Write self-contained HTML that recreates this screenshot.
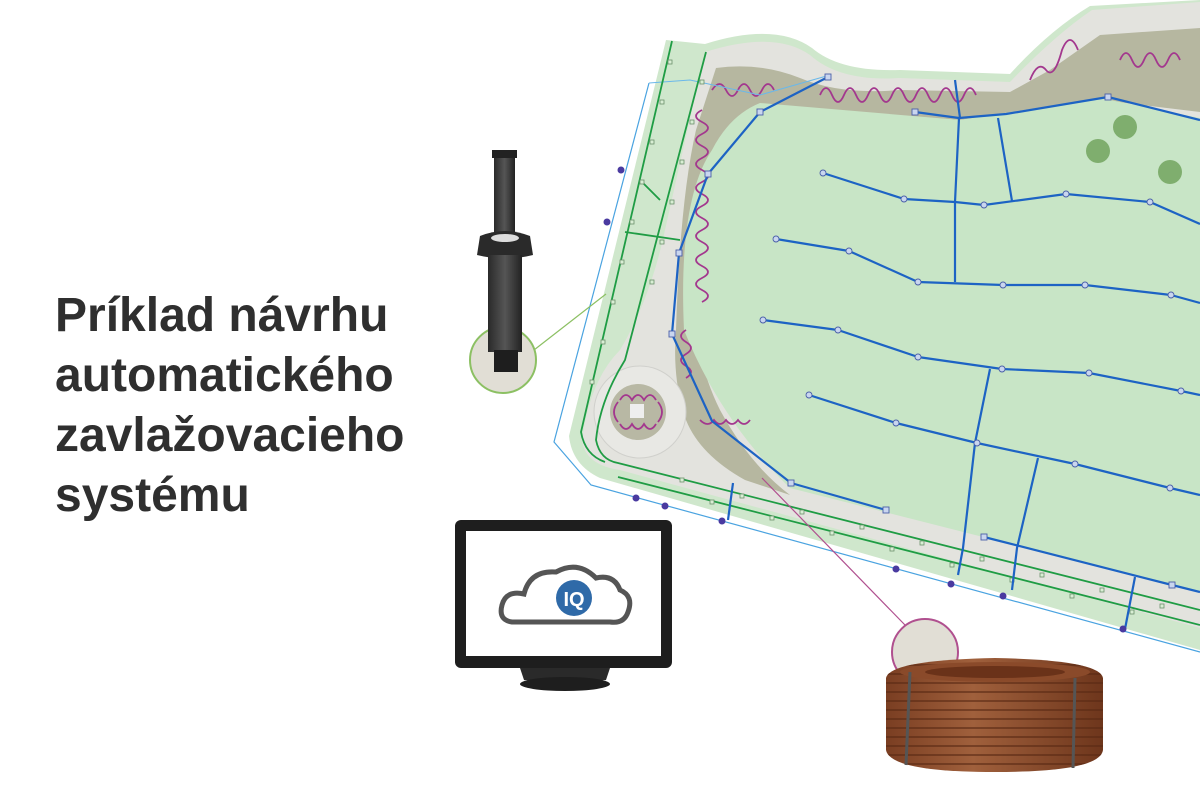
<!DOCTYPE html>
<html><head><meta charset="utf-8"><style>
html,body{margin:0;padding:0;background:#fff;}
body{width:1200px;height:788px;overflow:hidden;position:relative;font-family:"Liberation Sans",sans-serif;}
.t{position:absolute;left:55px;top:286px;font-size:48px;font-weight:bold;color:#2f2f2f;line-height:60px;}
svg{position:absolute;left:0;top:0;}
</style></head><body>
<svg width="1200" height="788" viewBox="0 0 1200 788">
<defs>
<linearGradient id="body" x1="0" x2="1"><stop offset="0" stop-color="#2a2a2a"/><stop offset=".5" stop-color="#555"/><stop offset="1" stop-color="#222"/></linearGradient>
<linearGradient id="coil" x1="0" x2="1"><stop offset="0" stop-color="#7a3e22"/><stop offset=".4" stop-color="#a0603c"/><stop offset="1" stop-color="#6e361c"/></linearGradient>
<pattern id="rings" width="10" height="9" patternUnits="userSpaceOnUse"><rect width="10" height="9" fill="none"/><rect y="7" width="10" height="2" fill="#5a2a14" opacity=".6"/></pattern>
</defs>
<!-- outer parcel -->
<path d="M666,40 L705,44 Q775,22 812,48 Q840,72 900,70 L1010,74 Q1050,30 1090,6 L1200,0 L1200,650 L600,478 Q572,465 569,436 Z" fill="#cfe7cc"/>
<!-- walkway -->
<path d="M705,52 Q775,30 810,55 Q840,82 900,78 L1010,82 Q1055,35 1092,10 L1200,2 L1200,628 L620,470 Q585,465 582,440 Q590,380 620,350 Q650,300 665,230 Z" fill="#e3e3de"/>
<!-- bed -->
<path d="M716,68 Q760,62 800,78 Q840,95 900,90 L1010,92 L1050,70 L1100,35 L1200,28 L1200,112 L1100,100 L960,120 L760,105 Q700,160 690,260 Q690,350 720,410 Q750,465 790,495 L745,480 Q700,455 686,420 Q672,380 676,330 Q680,200 696,130 Z" fill="#b6b7a0"/>
<!-- plaza -->
<circle cx="640" cy="412" r="46" fill="#e8e8e4" stroke="#d0d0cc"/>
<circle cx="638" cy="412" r="28" fill="#b8b8a4"/>
<rect x="630" y="404" width="14" height="14" fill="#eee"/>
<!-- lawn -->
<path d="M760,103 L960,120 L1100,98 L1200,118 L1200,592 L790,488 Q720,420 684,330 Q678,200 712,150 Q730,115 760,103 Z" fill="#c8e5c6"/>
<!-- trees -->
<circle cx="1125" cy="127" r="12" fill="#7fae6e"/><circle cx="1098" cy="151" r="12" fill="#7fae6e"/><circle cx="1170" cy="172" r="12" fill="#7fae6e"/>
<!-- purple wiggles -->
<g stroke="#a3378e" stroke-width="1.8" fill="none">
<path d="M712,90 q8,-12 14,0 q6,12 12,0 q6,-12 12,0 q6,12 12,0 q6,-12 12,0 M820,95 q6,-14 12,0 q6,14 12,0 q6,-14 12,0 q6,14 12,0 q6,-14 12,0 q6,14 12,0 q6,-14 12,0 q6,14 12,0 q6,-14 12,0 q6,14 12,0 q6,-14 12,0 q6,14 12,0 q6,-14 12,0 M1030,80 q8,-20 16,-10 q8,10 16,-20 q8,-20 16,0 M1120,60 q6,-14 12,0 q6,14 12,0 q6,-14 12,0 q6,14 12,0 q6,-14 12,0"/>
<path d="M702,110 q-12,6 0,12 q12,6 0,12 q-12,6 0,12 q12,6 0,12 q-12,6 0,12 q12,6 0,12 q-12,6 0,12 q12,6 0,12 q-12,6 0,12 q12,6 0,12 q-12,6 0,12 q12,6 0,12 q-12,6 0,12 q12,6 0,12 q-12,6 0,12 q12,6 0,12"/>
<path d="M686,330 q-10,6 0,12 q10,6 0,12 q-10,6 0,12 q10,6 0,12 M700,420 q8,8 14,0 q6,8 12,0 q6,8 12,0 q6,8 12,0"/>
<path d="M620,400 q6,-10 12,0 q6,-10 12,0 q6,-10 12,0 M620,424 q6,10 12,0 q6,10 12,0 q6,10 12,0 M618,402 q-8,10 0,20 M658,402 q8,10 0,20"/>
</g>
<!-- blue outline -->
<path d="M649,83 L554,442 L591,485 L1200,652" stroke="#4aa3e0" stroke-width="1.2" fill="none"/>
<path d="M649,83 L690,80 L760,95 L830,75" stroke="#6ab8ea" stroke-width="1" fill="none"/>
<!-- green lines -->
<g stroke="#1f9c44" stroke-width="1.8" fill="none">
<path d="M672,41 L581,432 Q585,455 605,462"/>
<path d="M706,52 L625,360 Q600,400 596,440 Q600,460 618,463 L1200,610"/>
<path d="M618,477 L1200,625"/>
<path d="M640,180 L660,200 M625,232 L680,240"/>
</g>
<g fill="#d9efd5" stroke="#6b8f6b" stroke-width=".8">
<rect x="668" y="60" width="4" height="4"/><rect x="660" y="100" width="4" height="4"/><rect x="650" y="140" width="4" height="4"/><rect x="640" y="180" width="4" height="4"/><rect x="630" y="220" width="4" height="4"/><rect x="620" y="260" width="4" height="4"/><rect x="611" y="300" width="4" height="4"/><rect x="601" y="340" width="4" height="4"/><rect x="590" y="380" width="4" height="4"/>
<rect x="700" y="80" width="4" height="4"/><rect x="690" y="120" width="4" height="4"/><rect x="680" y="160" width="4" height="4"/><rect x="670" y="200" width="4" height="4"/><rect x="660" y="240" width="4" height="4"/><rect x="650" y="280" width="4" height="4"/>
<rect x="680" y="478" width="4" height="4"/><rect x="740" y="494" width="4" height="4"/><rect x="800" y="510" width="4" height="4"/><rect x="860" y="525" width="4" height="4"/><rect x="920" y="541" width="4" height="4"/><rect x="980" y="557" width="4" height="4"/><rect x="1040" y="573" width="4" height="4"/><rect x="1100" y="588" width="4" height="4"/><rect x="1160" y="604" width="4" height="4"/>
<rect x="710" y="500" width="4" height="4"/><rect x="770" y="516" width="4" height="4"/><rect x="830" y="531" width="4" height="4"/><rect x="890" y="547" width="4" height="4"/><rect x="950" y="563" width="4" height="4"/><rect x="1010" y="578" width="4" height="4"/><rect x="1070" y="594" width="4" height="4"/><rect x="1130" y="610" width="4" height="4"/>
</g>
<!-- blue pipes -->
<g stroke="#1d63c4" stroke-width="2.2" fill="none" stroke-linejoin="round">
<polyline points="823,173 904,199 955,202 984,205 1066,194 1150,202 1200,224"/>
<polyline points="776,239 849,251 918,282 1003,285 1085,285 1171,295 1200,303"/>
<polyline points="763,320 838,330 918,357 1002,369 1089,373 1181,391 1200,395"/>
<polyline points="809,395 896,423 977,443 1075,464 1170,488 1200,495"/>
<polyline points="959,118 955,202 955,282"/>
<polyline points="998,118 1012,201"/>
<polyline points="990,369 975,443 963,548 958,575"/>
<polyline points="1038,458 1017,548 1012,590"/>
<polyline points="915,112 959,118 1006,114 1108,97 1200,120"/>
<polyline points="828,77 760,112 708,174 679,253 672,334 712,421 791,483 886,510"/>
<polyline points="984,537 1172,585 1200,592"/>
<polyline points="1135,577 1125,629"/>
<polyline points="960,118 955,80 M1005,114 1000,85"/>
<polyline points="733,483 728,520 M660,450 645,488"/>
</g>
<g fill="#c9d6ef" stroke="#4a5fa8" stroke-width=".9">
<circle cx="823" cy="173" r="3"/><circle cx="904" cy="199" r="3"/><circle cx="984" cy="205" r="3"/><circle cx="1066" cy="194" r="3"/><circle cx="1150" cy="202" r="3"/>
<circle cx="776" cy="239" r="3"/><circle cx="849" cy="251" r="3"/><circle cx="918" cy="282" r="3"/><circle cx="1003" cy="285" r="3"/><circle cx="1085" cy="285" r="3"/><circle cx="1171" cy="295" r="3"/>
<circle cx="763" cy="320" r="3"/><circle cx="838" cy="330" r="3"/><circle cx="918" cy="357" r="3"/><circle cx="1002" cy="369" r="3"/><circle cx="1089" cy="373" r="3"/><circle cx="1181" cy="391" r="3"/>
<circle cx="809" cy="395" r="3"/><circle cx="896" cy="423" r="3"/><circle cx="977" cy="443" r="3"/><circle cx="1075" cy="464" r="3"/><circle cx="1170" cy="488" r="3"/>
<rect x="825" y="74" width="6" height="6"/><rect x="757" y="109" width="6" height="6"/><rect x="705" y="171" width="6" height="6"/><rect x="676" y="250" width="6" height="6"/><rect x="669" y="331" width="6" height="6"/><rect x="788" y="480" width="6" height="6"/><rect x="883" y="507" width="6" height="6"/><rect x="912" y="109" width="6" height="6"/><rect x="1105" y="94" width="6" height="6"/><rect x="981" y="534" width="6" height="6"/><rect x="1169" y="582" width="6" height="6"/>
</g>
<g fill="#4a3aa0"><circle cx="621" cy="170" r="3.5"/><circle cx="607" cy="222" r="3.5"/><circle cx="636" cy="498" r="3.5"/><circle cx="665" cy="506" r="3.5"/><circle cx="722" cy="521" r="3.5"/><circle cx="896" cy="569" r="3.5"/><circle cx="951" cy="584" r="3.5"/><circle cx="1003" cy="596" r="3.5"/><circle cx="1123" cy="629" r="3.5"/></g>
<!-- leader lines -->
<line x1="534" y1="350" x2="606" y2="294" stroke="#8cc063" stroke-width="1.2"/>
<line x1="762" y1="478" x2="905" y2="625" stroke="#b0508f" stroke-width="1.2"/>
<!-- sprinkler -->
<circle cx="503" cy="360" r="33" fill="#e1ded5" stroke="#8cc063" stroke-width="2"/>
<rect x="494" y="153" width="21" height="80" fill="url(#body)"/>
<rect x="492" y="150" width="25" height="8" fill="#222"/>
<path d="M480,236 Q505,226 530,236 L533,255 Q505,262 477,255 Z" fill="#2a2a2a"/>
<ellipse cx="505" cy="238" rx="14" ry="4" fill="#ddd"/>
<rect x="488" y="255" width="34" height="97" fill="url(#body)"/>
<rect x="494" y="350" width="24" height="22" fill="#1e1e1e"/>
<!-- monitor -->
<rect x="455" y="520" width="217" height="148" rx="6" fill="#1e1e1e"/>
<rect x="466" y="531" width="195" height="125" fill="#fff"/>
<path d="M520,668 L610,668 L606,680 L524,680 Z" fill="#2a2a2a"/>
<ellipse cx="565" cy="684" rx="45" ry="7" fill="#1e1e1e"/>
<path d="M512,622 Q498,620 502,605 Q506,590 524,594 Q530,570 556,572 Q578,560 596,578 Q614,574 620,590 Q634,596 628,612 Q624,624 610,622 Z" fill="#fff" stroke="#555" stroke-width="5"/>
<circle cx="574" cy="598" r="18" fill="#2f6aa8"/>
<text x="574" y="606" font-size="20" font-weight="bold" fill="#fff" text-anchor="middle" font-family="Liberation Sans,sans-serif">IQ</text>
<!-- coil -->
<circle cx="925" cy="652" r="33" fill="#e1ded5" stroke="#b0508f" stroke-width="2"/>
<path d="M886,678 Q890,660 995,658 Q1100,660 1103,678 L1103,750 Q1100,772 995,772 Q890,772 886,750 Z" fill="url(#coil)"/>
<path d="M886,678 Q890,660 995,658 Q1100,660 1103,678 L1103,750 Q1100,772 995,772 Q890,772 886,750 Z" fill="url(#rings)"/>
<ellipse cx="995" cy="672" rx="95" ry="10" fill="#8a4a2a"/>
<ellipse cx="995" cy="672" rx="70" ry="6" fill="#6a3219"/>
<path d="M910,672 L906,765 M1075,678 L1073,768" stroke="#555" stroke-width="3"/>
</svg>
<div class="t">Príklad návrhu<br>automatického<br>zavlažovacieho<br>systému</div>
</body></html>
